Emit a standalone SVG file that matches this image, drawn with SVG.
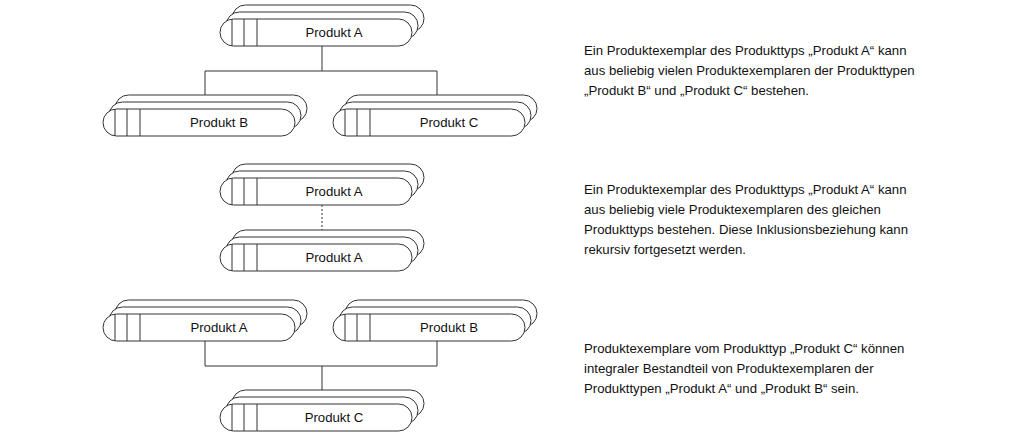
<svg xmlns="http://www.w3.org/2000/svg" width="1024" height="438" viewBox="0 0 1024 438">
<defs>
<style>
.s{fill:#fff;stroke:#333;stroke-width:1}
.t{font-family:"Liberation Sans",Arial,sans-serif;font-size:13.2px;fill:#111}
.c{fill:none;stroke:#333;stroke-width:1}
</style>
<g id="shape">
<rect class="s" x="12" y="-14" width="192" height="27" rx="13.5"/>
<rect class="s" x="6" y="-7" width="192" height="27" rx="13.5"/>
<rect class="s" x="0" y="0" width="192" height="27" rx="13.5"/>
<path class="c" d="M12,0V27M24,0V27M37,0V27"/>
</g>
</defs>
<rect width="1024" height="438" fill="#fff"/>
<g id="connectors">
<path class="c" d="M322,46V71M205,71H437M205,71V96M437,71V96"/>
<path class="c" d="M322,205V231" stroke-dasharray="2,2"/>
<path class="c" d="M205,340V366H437V340M322,366V391"/>
</g>
<g id="n1"><use href="#shape" x="220" y="19"/><text class="t" x="334" y="37" text-anchor="middle">Produkt A</text></g>
<g id="n2"><use href="#shape" x="103" y="109"/><text class="t" x="219" y="127" text-anchor="middle">Produkt B</text></g>
<g id="n3"><use href="#shape" x="333" y="109"/><text class="t" x="449" y="127" text-anchor="middle">Produkt C</text></g>
<g id="n4"><use href="#shape" x="220" y="178"/><text class="t" x="334" y="196" text-anchor="middle">Produkt A</text></g>
<g id="n5"><use href="#shape" x="220" y="244"/><text class="t" x="334" y="262" text-anchor="middle">Produkt A</text></g>
<g id="n6"><use href="#shape" x="103" y="314"/><text class="t" x="219" y="332" text-anchor="middle">Produkt A</text></g>
<g id="n7"><use href="#shape" x="333" y="314"/><text class="t" x="449" y="332" text-anchor="middle">Produkt B</text></g>
<g id="n8"><use href="#shape" x="220" y="404"/><text class="t" x="334" y="422" text-anchor="middle">Produkt C</text></g>
<g id="texts" class="t">
<text x="584" y="55">Ein Produktexemplar des Produkttyps „Produkt A“ kann</text>
<text x="584" y="75">aus beliebig vielen Produktexemplaren der Produkttypen</text>
<text x="584" y="95">„Produkt B“ und „Produkt C“ bestehen.</text>
<text x="584" y="194">Ein Produktexemplar des Produkttyps „Produkt A“ kann</text>
<text x="584" y="214">aus beliebig viele Produktexemplaren des gleichen</text>
<text x="584" y="234">Produkttyps bestehen. Diese Inklusionsbeziehung kann</text>
<text x="584" y="254">rekursiv fortgesetzt werden.</text>
<text x="584" y="353">Produktexemplare vom Produkttyp „Produkt C“ können</text>
<text x="584" y="373">integraler Bestandteil von Produktexemplaren der</text>
<text x="584" y="393">Produkttypen „Produkt A“ und „Produkt B“ sein.</text>
</g>
</svg>
